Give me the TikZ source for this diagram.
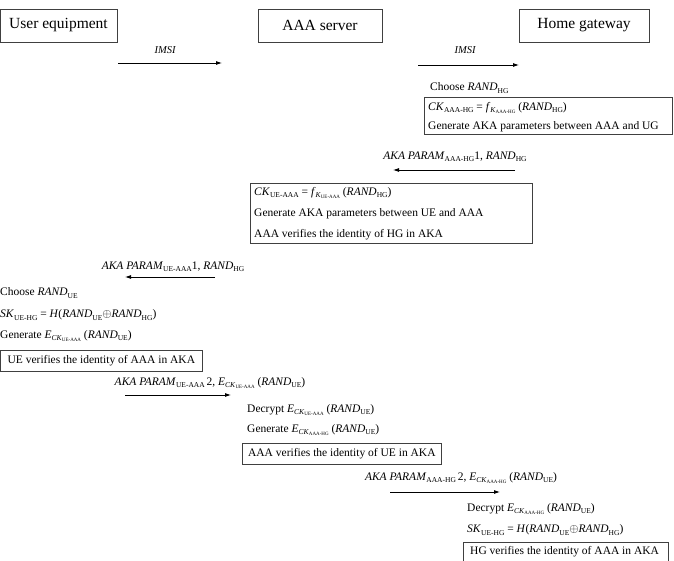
\documentclass[tikz,border=0pt]{standalone}
\usepackage{fontspec}
\setmainfont{Liberation Serif}
\usetikzlibrary{arrows.meta}
\newcommand{\sbx}[1]{\raisebox{-0.45ex}{\fontsize{7.5}{8}\selectfont #1}}
\newcommand{\ssbx}[1]{\raisebox{-0.35ex}{\fontsize{5}{5}\selectfont #1}}
\newcommand{\ckx}[1]{\textit{E}\sbx{\textit{CK}\ssbx{#1}}}
\begin{document}
\begin{tikzpicture}[x=1pt,y=-1pt,
  hdr/.style={draw=black!75,line width=0.7pt,minimum height=33pt,inner sep=0pt,font=\fontsize{15.5}{17}\selectfont},
  bx/.style={draw=black!75,line width=0.7pt,anchor=north west,inner sep=0pt},
  txt/.style={anchor=west,inner sep=0pt,font=\fontsize{11.5}{13}\selectfont},
  lbl/.style={inner sep=0pt,font=\fontsize{11.5}{13}\selectfont},
  msg/.style={-{Latex[length=6pt,width=4pt]},line width=0.8pt}]
\useasboundingbox (0,0) rectangle (674,561);
\clip (0,0) rectangle (674,561);
% headers
\node[hdr,minimum width=117pt] (ue) at (58.5,25.5) {User equipment};
\node[hdr,minimum width=124pt] (aaa) at (320,25.5) {AAA server};
\node[hdr,minimum width=130pt] (hg) at (584,25.5) {Home gateway};
% IMSI
\coordinate (i1s) at (118,63); \coordinate (i1e) at (222,63);
\draw[msg] (i1s) -- (i1e);
\node[lbl,font=\fontsize{10.5}{12}\selectfont\itshape] (l1) at (165,50) {IMSI};
\coordinate (i2s) at (418,65); \coordinate (i2e) at (519,65);
\draw[msg] (i2s) -- (i2e);
\node[lbl,font=\fontsize{10.5}{12}\selectfont\itshape] (l2) at (465,50) {IMSI};
% HG step
\node[txt] (t1) at (430,88) {Choose \textit{RAND}\sbx{HG}};
\node[bx,minimum width=248pt,minimum height=37pt] (b1) at (424,97) {};
\node[txt] (t2) at (428,108) {\textit{CK}\sbx{AAA-HG} = \textit{f}\sbx{\textit{K}\ssbx{AAA-HG}} (\textit{RAND}\sbx{HG})};
\node[txt] (t3) at (428,127) {Generate AKA parameters between AAA and UG};
% arrow 3
\node[lbl] (l3) at (455,157) {\textit{AKA PARAM}\sbx{AAA-HG}1, \textit{RAND}\sbx{HG}};
\coordinate (a3s) at (515,170); \coordinate (a3e) at (393,170);
\draw[msg] (a3s) -- (a3e);
% AAA box
\node[bx,minimum width=282pt,minimum height=60pt] (b2) at (250,183) {};
\node[txt] (t4) at (254,193) {\textit{CK}\sbx{UE-AAA} = \textit{f}\sbx{\textit{K}\ssbx{UE-AAA}} (\textit{RAND}\sbx{HG})};
\node[txt] (t5) at (254,214) {Generate AKA parameters between UE and AAA};
\node[txt] (t6) at (254,235) {AAA verifies the identity of HG in AKA};
% arrow 4
\node[lbl] (l4) at (173,267) {\textit{AKA PARAM}\sbx{UE-AAA}1, \textit{RAND}\sbx{HG}};
\coordinate (a4s) at (215,277); \coordinate (a4e) at (125,277);
\draw[msg] (a4s) -- (a4e);
% UE step
\node[txt] (t7) at (0,293) {Choose \textit{RAND}\sbx{UE}};
\node[txt] (t8) at (0,315) {\textit{SK}\sbx{UE-HG} = \textit{H}(\textit{RAND}\sbx{UE}$\oplus$\textit{RAND}\sbx{HG})};
\node[txt] (t9) at (0,336) {Generate \ckx{UE-AAA} (\textit{RAND}\sbx{UE})};
\node[bx,minimum width=202pt,minimum height=21pt] (b3) at (0,350) {};
\node[lbl] (t10) at (b3.center) {UE verifies the identity of AAA in AKA};
% arrow 5
\node[lbl] (l5) at (210,383) {\textit{AKA PARAM}\sbx{UE-AAA}\,2, \ckx{UE-AAA} (\textit{RAND}\sbx{UE})};
\coordinate (a5s) at (125,395); \coordinate (a5e) at (231,395);
\draw[msg] (a5s) -- (a5e);
% AAA step
\node[txt] (t11) at (247,410) {Decrypt \ckx{UE-AAA} (\textit{RAND}\sbx{UE})};
\node[txt] (t12) at (247,430) {Generate \ckx{AAA-HG} (\textit{RAND}\sbx{UE})};
\node[bx,minimum width=199pt,minimum height=21pt] (b4) at (242,443) {};
\node[lbl] (t13) at (b4.center) {AAA verifies the identity of UE in AKA};
% arrow 6
\node[lbl] (l6) at (461,478) {\textit{AKA PARAM}\sbx{AAA-HG}\,2, \ckx{AAA-HG} (\textit{RAND}\sbx{UE})};
\coordinate (a6s) at (390,492); \coordinate (a6e) at (500,492);
\draw[msg] (a6s) -- (a6e);
% HG step
\node[txt] (t14) at (467,509) {Decrypt \ckx{AAA-HG} (\textit{RAND}\sbx{UE})};
\node[txt] (t15) at (467,530) {\textit{SK}\sbx{UE-HG} = \textit{H}(\textit{RAND}\sbx{UE}$\oplus$\textit{RAND}\sbx{HG})};
\node[bx,minimum width=205pt,minimum height=30pt] (b5) at (463,542) {};
\node[lbl,anchor=west] (t16) at (470,552) {HG verifies the identity of AAA in AKA};
\end{tikzpicture}
\end{document}
